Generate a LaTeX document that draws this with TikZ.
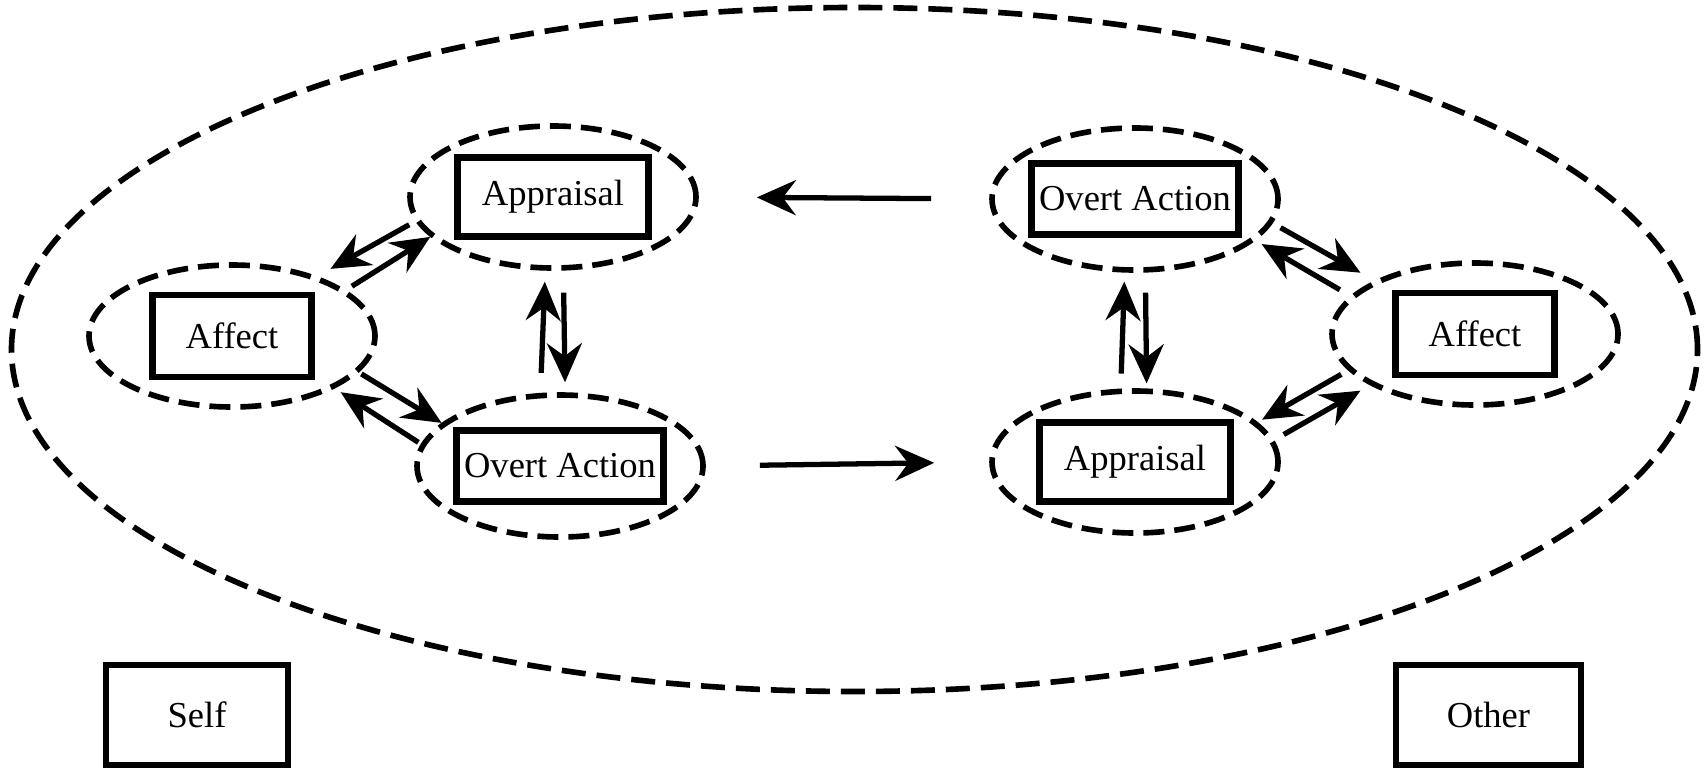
\documentclass[tikz,border=0pt]{standalone}
\usepackage{fontspec}
\setmainfont{Liberation Serif}
\usetikzlibrary{shapes.geometric,arrows.meta}

\begin{document}
\begin{tikzpicture}[
        oval/.style={ellipse, draw, line width=1.6pt, dash pattern=on 0.21cm off 0.1cm, minimum width=2.86cm, minimum height=1.42cm},
        box/.style={rectangle, draw, line width=1.9pt, inner sep=0pt, font=\fontsize{10.4}{12}\selectfont},
        arr/.style={line width=1.5pt, -{Stealth[length=3.9mm, width=3.5mm, inset=1.3mm]}}
    ]
        \useasboundingbox (0,0) rectangle (17.04,-7.68);
        \draw[line width=1.6pt, dash pattern=on 0.24cm off 0.11cm] (8.545,-3.495) ellipse (8.43 and 3.42);
        % self
        \node[oval] (lapp) at (5.53,-1.97) {};
        \node[oval] (laff) at (2.32,-3.36) {};
        \node[oval] (lact) at (5.60,-4.66) {};
        \node[box, minimum width=1.91cm, minimum height=0.79cm] (lappbox) at (lapp) {Appraisal};
        \node[box, minimum width=1.59cm, minimum height=0.82cm] (laffbox) at (laff) {Affect};
        \node[box, minimum width=2.07cm, minimum height=0.71cm] (lactbox) at (lact) {Overt Action};
        % other
        \node[oval] (ract) at (11.35,-1.99) {};
        \node[oval] (raff) at (14.75,-3.34) {};
        \node[oval] (rapp) at (11.35,-4.62) {};
        \node[box, minimum width=2.07cm, minimum height=0.71cm] (ractbox) at (ract) {Overt Action};
        \node[box, minimum width=1.59cm, minimum height=0.82cm] (raffbox) at (raff) {Affect};
        \node[box, minimum width=1.91cm, minimum height=0.79cm] (rappbox) at (rapp) {Appraisal};
        \node[box, minimum width=1.82cm, minimum height=1.0cm] (self) at (1.97,-7.15) {Self};
        \node[box, minimum width=1.85cm, minimum height=1.0cm] (other) at (14.885,-7.15) {Other};
        % arrows inside self
        \draw[arr, shorten <=0.07cm, shorten >=0.15cm] (lapp.190) -- (laff.35);
        \draw[arr, shorten <=0.07cm] (laff.22) -- (lapp.198);
        \draw[arr, shorten <=0.03cm] (laff.344) -- (lact.160);
        \draw[arr, shorten <=0.03cm, shorten >=0.07cm] (lact.171) -- (laff.333);
        \draw[arr, shorten <=0.2cm, shorten >=0.11cm] (lact.105) -- (lapp.264);
        \draw[arr, shorten <=0.22cm, shorten >=0.1cm] (lapp.278) -- (lact.86);
        % arrows inside other
        \draw[arr, shorten <=0.09cm, shorten >=0.16cm] (ract.350) -- (raff.152);
        \draw[arr, shorten <=0.12cm, shorten >=0.07cm] (raff.163) -- (ract.341);
        \draw[arr, shorten <=0.15cm, shorten >=0.09cm] (rapp.101) -- (ract.262);
        \draw[arr, shorten <=0.2cm, shorten >=0.05cm] (ract.278) -- (rapp.81);
        \draw[arr, shorten <=0.08cm, shorten >=0.05cm] (raff.196) -- (rapp.18);
        \draw[arr, shorten <=0.11cm, shorten >=0.11cm] (rapp.9) -- (raff.206);
        % between self and other
        \draw[arr, shorten <=0.58cm, shorten >=0.58cm] (ract.west) -- (lapp.east);
        \draw[arr, shorten <=0.54cm, shorten >=0.55cm] (lact.east) -- (rapp.west);
    \end{tikzpicture}
\end{document}
